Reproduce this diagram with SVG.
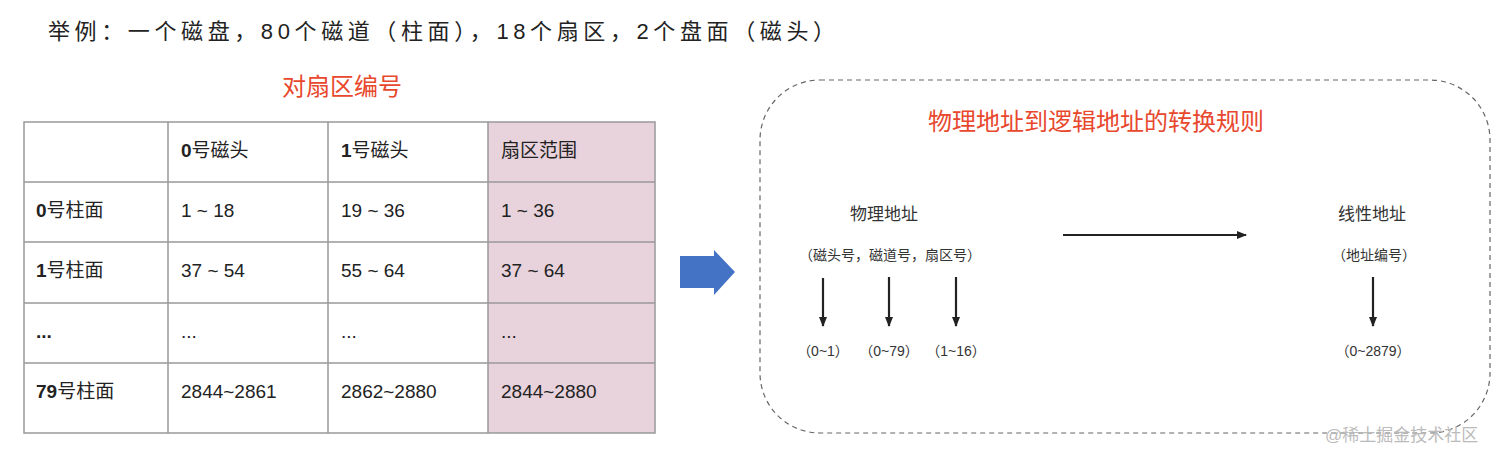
<svg xmlns="http://www.w3.org/2000/svg" width="1512" height="461" viewBox="0 0 1512 461">
<style>
text{font-family:"Liberation Sans","Noto Sans CJK SC",sans-serif;fill:#222}
.c{font-size:19px}
.b{font-weight:bold}
.s{font-size:14px;fill:#333}
.m{font-size:17px;fill:#333}
.r{fill:#e8482d;font-size:24px}
.g{stroke:#999;stroke-width:1.5;fill:none}
</style>
<defs><marker id="ah" markerWidth="10" markerHeight="8" refX="9" refY="4" orient="auto" markerUnits="userSpaceOnUse"><path d="M0,0L10,4L0,8z" fill="#222"/></marker></defs>
<rect width="1512" height="461" fill="#fff"/>
<text x="48" y="39" style="font-size:22px" textLength="787" lengthAdjust="spacing">举例：一个磁盘，80个磁道（柱面），18个扇区，2个盘面（磁头）</text>
<g id="table">
<text x="342" y="95" class="r" text-anchor="middle">对扇区编号</text>
<rect x="488" y="122" width="167" height="311" fill="#e8d2dc"/>
<rect x="24" y="122" width="631" height="311" class="g"/>
<path class="g" d="M168,122V433M328,122V433M488,122V433M24,182H655M24,242H655M24,303H655M24,363H655"/>
<g class="c">
<text x="181" y="157" class="b">0<tspan font-weight="normal">号磁头</tspan></text>
<text x="341" y="157" class="b">1<tspan font-weight="normal">号磁头</tspan></text>
<text x="501" y="157">扇区范围</text>
<text x="36" y="217" class="b">0<tspan font-weight="normal">号柱面</tspan></text>
<text x="181" y="217">1 ~ 18</text><text x="341" y="217">19 ~ 36</text><text x="501" y="217">1 ~ 36</text>
<text x="36" y="277" class="b">1<tspan font-weight="normal">号柱面</tspan></text>
<text x="181" y="277">37 ~ 54</text><text x="341" y="277">55 ~ 64</text><text x="501" y="277">37 ~ 64</text>
<text x="36" y="338" class="b">...</text>
<text x="181" y="338">...</text><text x="341" y="338">...</text><text x="501" y="338">...</text>
<text x="36" y="398" class="b">79<tspan font-weight="normal">号柱面</tspan></text>
<text x="181" y="398">2844~2861</text><text x="341" y="398">2862~2880</text><text x="501" y="398">2844~2880</text>
</g>
</g>
<g id="bigArrow"><path d="M680,256H714V250L735,272L714,295V288H680Z" fill="#4472c4"/></g>
<g id="rules">
<rect x="760" y="80" width="730" height="353" rx="60" fill="none" stroke="#666" stroke-width="1.2" stroke-dasharray="5,4"/>
<text x="1096" y="130" class="r" text-anchor="middle">物理地址到逻辑地址的转换规则</text>
<text x="884" y="220" class="m" text-anchor="middle">物理地址</text>
<text x="890" y="260" class="s" text-anchor="middle">（磁头号，磁道号，扇区号）</text>
<text x="1372" y="220" class="m" text-anchor="middle">线性地址</text>
<text x="1374" y="260" class="s" text-anchor="middle">（地址编号）</text>
<text x="823" y="356" class="s" text-anchor="middle">（0~1）</text>
<text x="889" y="356" class="s" text-anchor="middle">（0~79）</text>
<text x="956" y="356" class="s" text-anchor="middle">（1~16）</text>
<text x="1373" y="356" class="s" text-anchor="middle">（0~2879）</text>
</g>
<g id="connectors" stroke="#222" stroke-width="2.2" marker-end="url(#ah)">
<line x1="1063" y1="235" x2="1246" y2="235"/>
<line x1="823" y1="278" x2="823" y2="326"/>
<line x1="889" y1="277" x2="889" y2="326"/>
<line x1="956" y1="277" x2="956" y2="326"/>
<line x1="1373" y1="277" x2="1373" y2="326"/>
</g>
<text x="1325" y="441" style="font-size:17px;fill:#bbb">@稀土掘金技术社区</text>
</svg>
